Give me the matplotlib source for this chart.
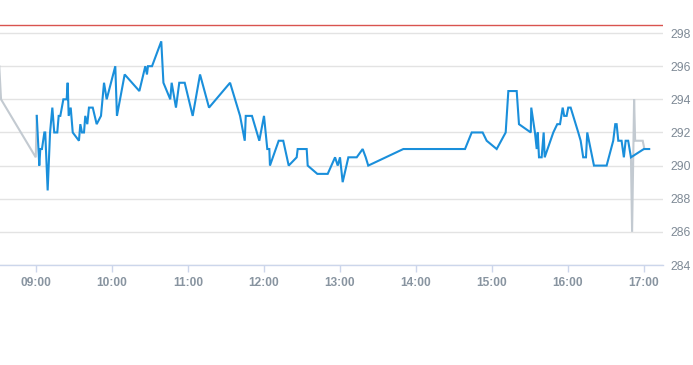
import matplotlib
matplotlib.use("Agg")
import matplotlib.pyplot as plt
from matplotlib.ticker import FixedLocator, FuncFormatter

# ---- data ----
blue_times = ["09:00.6","09:02.6","09:03.4","09:04.7","09:06.6","09:07.3","09:09.2","09:11.1","09:12.9",
              "09:14.4","09:16.8","09:17.9","09:19.2","09:21.6","09:24.2","09:25.0","09:25.8","09:27.4",
              "09:29.0","09:33.9","09:35.0","09:36.3","09:37.9","09:38.9","09:40.5","09:41.8","09:44.8",
              "09:47.9","09:51.3","09:53.7","09:55.8","10:02.6","10:03.9","10:10.0","10:21.6","10:26.3",
              "10:27.6","10:28.4","10:31.6","10:38.9","10:40.6","10:46.0","10:47.1","10:50.5","10:53.1",
              "10:57.4","11:03.7","11:09.5","11:16.6","11:33.2","11:41.1","11:44.8","11:45.6","11:50.5",
              "11:56.3","12:00.0","12:02.6","12:04.2","12:04.7","12:11.6","12:15.2","12:19.5","12:25.8",
              "12:26.6","12:33.7","12:34.5","12:42.1","12:50.3","12:56.1","12:58.2","13:00.0","13:02.1",
              "13:06.6","13:13.2","13:17.9","13:20.3","13:22.3","13:50.0","14:38.7","14:44.0","14:52.6",
              "14:55.8","15:03.7","15:10.8","15:12.9","15:19.5","15:21.3","15:30.6","15:31.0","15:33.9",
              "15:35.3","15:36.1","15:37.1","15:39.2","15:40.8","15:41.6","15:48.4","15:51.5","15:53.7",
              "15:55.8","15:57.0","15:58.9","16:00.2","16:02.1","16:08.1","16:10.0","16:12.0","16:14.2",
              "16:15.2","16:20.5","16:30.5","16:35.7","16:37.3","16:38.4","16:39.7","16:42.3","16:44.1",
              "16:45.5","16:47.5","16:49.7","16:59.9","17:04.1"]
blue_values = [293.0,290.0,291.0,291.0,292.0,292.0,288.5,292.0,293.5,
               292.0,292.0,293.0,293.0,294.0,294.0,295.0,293.0,293.5,
               292.0,291.5,292.5,292.0,292.0,293.0,292.5,293.5,293.5,
               292.5,293.0,295.0,294.0,296.0,293.0,295.5,294.5,296.0,
               295.5,296.0,296.0,297.5,295.0,294.0,295.0,293.5,295.0,
               295.0,293.0,295.5,293.5,295.0,293.0,291.5,293.0,293.0,
               291.5,293.0,291.0,291.0,290.0,291.5,291.5,290.0,290.5,
               291.0,291.0,290.0,289.5,289.5,290.5,290.0,290.5,289.0,
               290.5,290.5,291.0,290.5,290.0,291.0,291.0,292.0,292.0,
               291.5,291.0,292.0,294.5,294.5,292.5,292.0,293.5,292.0,
               291.0,292.0,290.5,290.5,292.0,290.5,292.0,292.5,292.5,
               293.5,293.0,293.0,293.5,293.5,292.0,291.5,290.5,290.5,
               292.0,290.0,290.0,291.5,292.5,292.5,291.5,291.5,290.5,
               291.5,291.5,290.5,291.0,291.0]

gray_pre_times = ["08:31.0","08:32.4","08:59.8","09:00.6"]
gray_pre_values = [296.0,294.0,290.5,293.0]
gray_post_times = ["16:49.7","16:50.6","16:52.2","16:53.0","16:59.0","17:00.3"]
gray_post_values = [290.5,286.0,294.0,291.5,291.5,291.0]

ref_level = 298.5
x_ticks = ["09:00","10:00","11:00","12:00","13:00","14:00","15:00","16:00","17:00"]
y_ticks = [284, 286, 288, 290, 292, 294, 296, 298]


def to_min(s):
    h, m = s.split(":")
    return int(h) * 60 + float(m)


fig = plt.figure(figsize=(6.93, 3.65), dpi=100)
ax = fig.add_axes([0.0, 1 - 265 / 365, 663 / 693, 245 / 365])

xmin = 540 - 36 * 60 / 76
xmax = 540 + (663 - 36) * 60 / 76
ax.set_xlim(xmin, xmax)
ax.set_ylim(284, 298 + 13 / 16.5)

ax.plot([to_min(t) for t in gray_pre_times], gray_pre_values, color="#c3cad1", lw=1.5, zorder=2, solid_joinstyle="miter")
ax.plot([to_min(t) for t in gray_post_times], gray_post_values, color="#c3cad1", lw=1.5, zorder=2, solid_joinstyle="miter")
ax.plot([to_min(t) for t in blue_times], blue_values, color="#1a8fdb", lw=1.5, zorder=3, solid_joinstyle="miter")
ax.axhline(ref_level, color="#d9534f", lw=1.0, zorder=4)

ax.yaxis.set_major_locator(FixedLocator(y_ticks))
ax.xaxis.set_major_locator(FixedLocator([to_min(t) for t in x_ticks]))
ax.xaxis.set_major_formatter(FuncFormatter(lambda v, p: "%02d:%02d" % (int(v // 60), int(round(v % 60)))))
ax.grid(axis="y", color="#e3e3e3", lw=1.0)
ax.set_axisbelow(True)

for s in ["top", "left", "right"]:
    ax.spines[s].set_visible(False)
ax.spines["bottom"].set_color("#ccd6eb")
ax.spines["bottom"].set_linewidth(1.0)

ax.yaxis.tick_right()
ax.tick_params(axis="y", length=0, pad=5, labelsize=8.8, labelcolor="#7f8a96")
ax.tick_params(axis="x", length=5, width=1, color="#ccd6eb", pad=4, labelsize=8.6, labelcolor="#8894a0")
for lbl in ax.get_xticklabels():
    lbl.set_fontweight("bold")
    lbl.set_fontfamily("Liberation Sans")
for lbl in ax.get_yticklabels():
    lbl.set_fontfamily("Liberation Sans")

fig.savefig("out.png", dpi=100)
